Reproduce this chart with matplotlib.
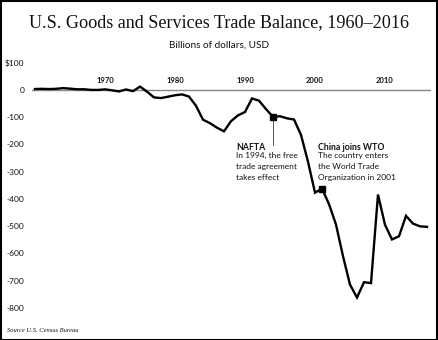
import matplotlib
matplotlib.use("Agg")
import matplotlib.pyplot as plt
from matplotlib.patches import Rectangle

years = list(range(1960, 2017))
balance = [3.5, 4.2, 3.4, 4.2, 6.8, 4.9, 2.6, 2.6, 0.3, 0.1,
           2.3, -1.3, -5.4, 1.9, -4.3, 12.4, -6.1, -27.2, -29.8, -24.6,
           -19.4, -16.2, -24.2, -57.8, -109.1, -121.9, -138.5, -151.7, -114.6, -93.1,
           -80.9, -31.1, -39.2, -70.3, -98.5, -96.4, -104.1, -108.3, -164.9, -263.2,
           -377.0, -362.0, -418.9, -493.9, -609.9, -714.2, -761.7, -705.4, -708.7, -383.8,
           -494.7, -548.6, -536.8, -461.9, -490.3, -500.4, -502.3]

x_tick_years = [1970, 1980, 1990, 2000, 2010]
x_tick_labels = ["1970", "1980", "1990", "2000", "2010"]
y_ticks = [100, 0, -100, -200, -300, -400, -500, -600, -700, -800]
y_tick_labels = ["$100", "0", "-100", "-200", "-300", "-400", "-500", "-600", "-700", "-800"]

events_years = [1994, 2001]
events_titles = ["NAFTA", "China joins WTO"]
events_texts = ["In 1994, the free\ntrade agreement\ntakes effect",
                "The country enters\nthe World Trade\nOrganization in 2001"]

W, H = 438, 340
fig = plt.figure(figsize=(W / 100, H / 100), dpi=100)
sans = ["Lato", "DejaVu Sans"]
serif = ["Liberation Serif", "DejaVu Serif"]

# axes geometry in pixels
left_px, right_px = 32.2, 430.5
top_px, bot_px = 60.0, 321.6
ax = fig.add_axes([left_px / W, 1 - bot_px / H, (right_px - left_px) / W, (bot_px - top_px) / H])
ax.set_xlim(1959.6, 2016.5)
ax.set_ylim(-850, 110)
for s in ax.spines.values():
    s.set_visible(False)
ax.set_xticks([])
ax.set_yticks(y_ticks)
ax.set_yticklabels(y_tick_labels, fontsize=6, family=sans, color="#111111")
ax.tick_params(axis="y", length=0, pad=5.8)
ax.patch.set_alpha(0)

ax.axhline(0, color="#888888", lw=1.0, zorder=1)
ax.plot(years, balance, color="black", lw=1.7, zorder=3, solid_joinstyle="miter")

for yr, lab in zip(x_tick_years, x_tick_labels):
    ax.annotate(lab, (yr, 0), xytext=(0, 4), textcoords="offset points",
                ha="center", va="bottom", fontsize=5.5, family=sans,
                fontweight="bold", color="#111111")

# event markers
text_x = [1988.7, 2000.4]
for i, (yr, t, d) in enumerate(zip(events_years, events_titles, events_texts)):
    v = balance[years.index(yr)]
    ax.plot([yr], [v], marker="s", ms=4, color="black", zorder=4, ls="none")
    if i == 0:
        ax.plot([yr, yr], [v, -202], color="#555555", lw=0.7, zorder=2)
    tx = text_x[i]
    ax.text(tx, -195, t, fontsize=6.3, family=sans, fontweight="bold",
            va="top", ha="left", color="#111111")
    ax.text(tx, -229, d, fontsize=6.0, family=sans, va="top", ha="left",
            color="#111111", linespacing=1.6)

fig.text(0.5, 1 - 23 / H, "U.S. Goods and Services Trade Balance, 1960\u20132016",
         ha="center", va="center", fontsize=13.1, family=serif, color="#111111")
fig.text(0.5, 1 - 45 / H, "Billions of dollars, USD", ha="center", va="center",
         fontsize=7.2, family=sans, color="#111111")
fig.text(7 / W, 1 - 330 / H, "Source U.S. Census Bureau", ha="left", va="center",
         fontsize=4.7, family=serif, style="italic", color="#111111")

fig.patches.append(Rectangle((0.5 / W, 0.5 / H), 1 - 1.5 / W, 1 - 1.5 / H,
                             transform=fig.transFigure, fill=False,
                             edgecolor="black", lw=1.5))

fig.savefig("out.png", dpi=100)
